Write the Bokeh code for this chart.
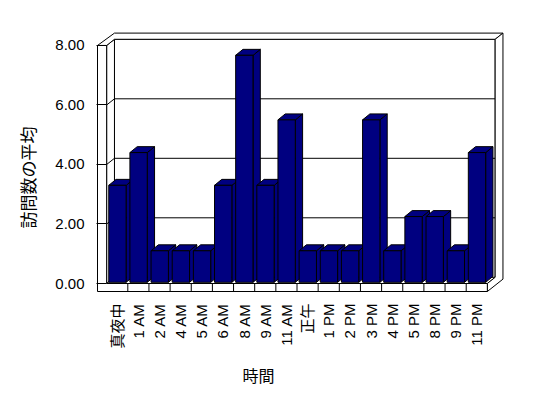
import math
from bokeh.plotting import figure
from bokeh.models import Range1d, FixedTicker, PrintfTickFormatter, Title
from bokeh.embed import file_html
from bokeh.resources import INLINE

# ---- data ----
categories = ["真夜中", "1 AM", "2 AM", "4 AM", "5 AM", "6 AM", "8 AM", "9 AM", "11 AM",
              "正午", "1 PM", "2 PM", "3 PM", "4 PM", "5 PM", "8 PM", "9 PM", "11 PM"]
values = [3.3, 4.4, 1.1, 1.1, 1.1, 3.3, 7.67, 3.3, 5.5,
          1.1, 1.1, 1.1, 5.5, 1.1, 2.25, 2.25, 1.1, 4.4]
y_ticks = [0, 2, 4, 6, 8]
y_title = "訪問数の平均"
x_title = "時間"

# ---- 3D box geometry (in data units) ----
n = len(categories)
ymax = y_ticks[-1]
ddx, ddy = 0.369, 0.208        # depth offset front -> back
wall_t = 0.4326                # left wall thickness
floor_t = 0.269                # floor thickness
bar_lo, bar_hi, bar_base = 0.10, 0.92, 0.04
bdx, bdy = 0.345, 0.20         # bar depth

FONT_LAT = "Liberation Sans, Noto Sans CJK JP"
FONT_CJK = "Noto Sans CJK JP"

p = figure(width=532, height=398, output_backend="svg", toolbar_location=None,
           x_range=Range1d(-0.48, 18.858), y_range=Range1d(-0.336, 8.47),
           min_border_left=96, min_border_right=27, min_border_top=31, min_border_bottom=105)
p.outline_line_color = None
p.xgrid.visible = False
p.ygrid.visible = False
p.background_fill_color = "white"
p.border_fill_color = "white"

W = dict(fill_color="white", line_color="black", line_width=1)

# back wall inner face
p.patches([[ddx, n + ddx, n + ddx, ddx]], [[ddy, ddy, ymax + ddy, ymax + ddy]], **W)
# left wall inner face
p.patches([[0, 0, ddx, ddx]], [[0, ymax, ymax + ddy, ddy]], **W)
# floor top face
p.patches([[0, n, n + ddx, ddx]], [[0, 0, ddy, ddy]], **W)
# gridlines on back wall and left wall
gv = y_ticks[1:-1]
p.segment(x0=[ddx] * len(gv), y0=[v + ddy for v in gv], x1=[n + ddx] * len(gv),
          y1=[v + ddy for v in gv], line_color="black", line_width=1)
p.segment(x0=[0] * len(gv), y0=gv, x1=[ddx] * len(gv), y1=[v + ddy for v in gv],
          line_color="black", line_width=1)
# top of walls
p.patches([[-wall_t, 0, ddx, n + ddx, n + 2 * ddx, ddx]],
          [[ymax, ymax, ymax + ddy, ymax + ddy, ymax + 2 * ddy, ymax + 2 * ddy]], **W)
# right end of back wall / floor
p.patches([[n, n, n + 2 * ddx, n + 2 * ddx, n + ddx, n + ddx]],
          [[0, -floor_t, -floor_t + 2 * ddy, ymax + 2 * ddy, ymax + ddy, ddy]], **W)
# front L-shape (left wall front + floor front)
p.patches([[-wall_t, 0, 0, n, n, -wall_t]],
          [[ymax, ymax, 0, 0, -floor_t, -floor_t]], **W)
# dividers on floor front
p.segment(x0=list(range(1, n)), y0=[0] * (n - 1), x1=list(range(1, n)), y1=[-floor_t] * (n - 1),
          line_color="black", line_width=1)

# bars
for i, v in enumerate(values):
    lo, hi = i + bar_lo, i + bar_hi
    p.patches([[hi, hi, hi + bdx, hi + bdx], [lo, hi, hi + bdx, lo + bdx]],
              [[bar_base, v, v + bdy, bar_base + bdy], [v, v, v + bdy, v + bdy]],
              fill_color="#000080", line_color="black", line_width=1)
    p.patches([[lo, hi, hi, lo]], [[bar_base, bar_base, v, v]],
              fill_color="#000080", line_color="black", line_width=1)

# y axis
ya = p.yaxis[0]
ya.ticker = FixedTicker(ticks=y_ticks)
ya.formatter = PrintfTickFormatter(format="%.2f")
ya.axis_line_color = None
ya.major_tick_in = 10
ya.major_tick_out = 0
ya.minor_tick_line_color = None
ya.major_label_standoff = 12
ya.major_label_text_font = FONT_LAT
ya.major_label_text_font_size = "15px"
ya.major_label_text_color = "black"

# x axis
xa = p.xaxis[0]
xa.ticker = FixedTicker(ticks=[i + 0.5 for i in range(n)])
xa.major_label_overrides = {i + 0.5: c for i, c in enumerate(categories)}
xa.major_label_orientation = math.pi / 2
xa.axis_line_color = None
xa.major_tick_in = 0
xa.major_tick_out = 0
xa.minor_tick_line_color = None
xa.major_label_standoff = 10
xa.major_label_text_font = FONT_LAT
xa.major_label_text_font_size = "15px"
xa.major_label_text_color = "black"

p.add_layout(Title(text=x_title, align="left", offset=146, text_font=FONT_CJK,
                   text_font_size="16px", text_font_style="normal", standoff=18,
                   text_color="black"), "below")
p.add_layout(Title(text=y_title, align="left", offset=65, text_font=FONT_CJK,
                   text_font_size="17px", text_font_style="normal", standoff=25,
                   text_color="black"), "left")

open("out.html", "w").write(file_html(p, INLINE))
